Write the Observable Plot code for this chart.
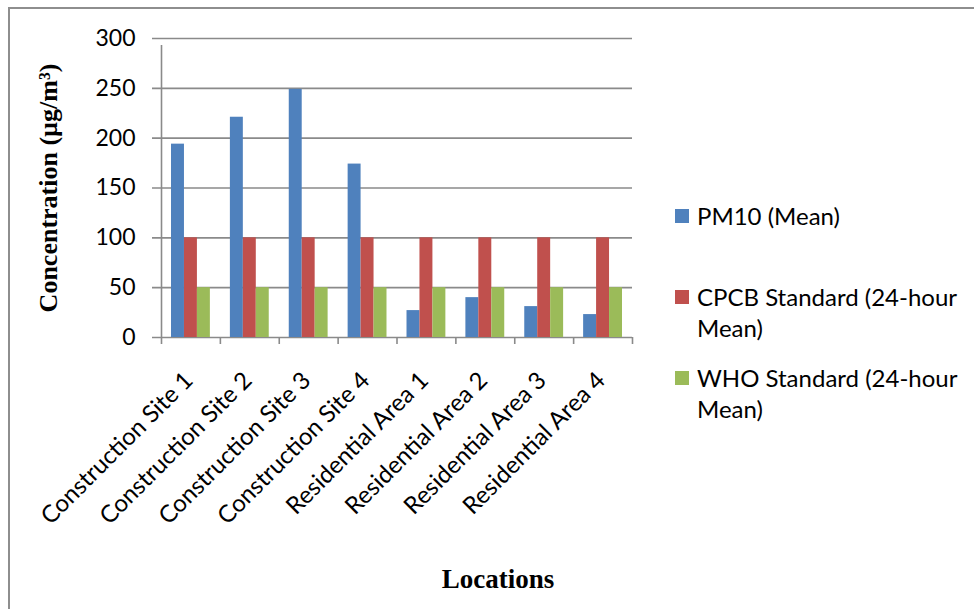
<!DOCTYPE html>
<html>
<head>
<meta charset="utf-8">
<script src="https://cdn.jsdelivr.net/npm/d3@7"></script>
<script src="https://cdn.jsdelivr.net/npm/@observablehq/plot@0.6"></script>
<style>
  html, body { margin: 0; padding: 0; background: #fff; overflow: hidden; }
  #wrap { position: relative; width: 974px; height: 609px; }
  #frame { position: absolute; left: 8px; top: 7px; width: 2000px; height: 2000px;
           border-top: 2px solid #8e8e8e; border-left: 2px solid #8e8e8e; }
  #chart { position: absolute; left: 0; top: 0; }
  .legend-item { position: absolute; left: 675px; display: flex; align-items: flex-start;
                 font-family: Lato, sans-serif; font-size: 24px; line-height: 31px; color: #000; }
  .swatch { width: 14px; height: 14px; margin-top: 9px; margin-right: 8px; flex: none; }
</style>
</head>
<body>
<div id="wrap">
  <div id="frame"></div>
  <div id="chart"></div>
  <div id="legend"></div>
</div>
<script>
// Monitoring locations
const locations = [
  "Construction Site 1", "Construction Site 2", "Construction Site 3", "Construction Site 4",
  "Residential Area 1", "Residential Area 2", "Residential Area 3", "Residential Area 4"
];
// Mean PM10 concentration at each location (µg/m³)
const pm10 = [194, 221, 249, 174, 27, 40, 31, 23];
// 24-hour mean standards (µg/m³)
const cpcb = [100, 100, 100, 100, 100, 100, 100, 100];
const who = [50, 50, 50, 50, 50, 50, 50, 50];

const seriesNames = [
  ["PM10 (Mean)"],
  ["CPCB Standard (24-hour", "Mean)"],
  ["WHO Standard (24-hour", "Mean)"]
];
const seriesColors = ["#4f81bd", "#c0504d", "#9bbb59"];
const yTicks = [0, 50, 100, 150, 200, 250, 300];
const yTitle = "Concentration (µg/m³)";
const xTitle = "Locations";

const width = 974, height = 609;
const marginLeft = 161, marginRight = 342, marginTop = 38, marginBottom = 272;
const step = (width - marginLeft - marginRight) / locations.length;
const barW = step * 0.22;
const lead = step * 0.17;
const grid = "#8a8a8a";

const seriesValues = [pm10, cpcb, who];
const bars = seriesValues.map((values, s) =>
  Plot.barY(locations.map((loc, i) => ({location: loc, value: values[i]})), {
    x: "location",
    y: "value",
    fill: seriesColors[s],
    insetLeft: lead + s * barW,
    insetRight: step - lead - (s + 1) * barW
  })
);

const chart = Plot.plot({
  width, height, marginLeft, marginRight, marginTop, marginBottom,
  style: {fontFamily: "Lato, sans-serif", background: "transparent", color: "#000"},
  x: {type: "band", domain: locations, padding: 0, round: false},
  y: {domain: [0, 300]},
  marks: [
    // horizontal gridlines, extended left past the axis as tick marks
    Plot.ruleY(yTicks, {y: d => d, stroke: grid, strokeWidth: 1.6, insetLeft: -9}),
    // vertical value axis line
    Plot.ruleX([locations[0]], {x: d => d, dx: -step / 2, y1: 0, y2: 300, insetBottom: -7, stroke: grid, strokeWidth: 1.6}),
    // category boundary tick marks
    Plot.ruleX(locations, {x: d => d, dx: -step / 2, y1: 0, y2: 0, insetBottom: -7, stroke: grid, strokeWidth: 1.6}),
    Plot.ruleX([locations[locations.length - 1]], {x: d => d, dx: step / 2, y1: 0, y2: 0, insetBottom: -7, stroke: grid, strokeWidth: 1.6}),
    ...bars,
    Plot.axisY({ticks: yTicks, tickSize: 0, tickPadding: 26, fontSize: 23, label: null, tickFormat: d => String(d)}),
    Plot.axisX({tickSize: 0, tickRotate: -45, tickPadding: 39, dx: -2, fontSize: 24, label: null}),
    Plot.text([yTitle], {frameAnchor: "left", textAnchor: "middle", rotate: -90, dx: -113, fontFamily: "Liberation Serif, Times New Roman, serif", fontWeight: "bold", fontSize: 26, fill: "#000"}),
    Plot.text([xTitle], {frameAnchor: "bottom", dx: 101, dy: 250, lineAnchor: "bottom", fontFamily: "Liberation Serif, Times New Roman, serif", fontWeight: "bold", fontSize: 27, fill: "#000"})
  ]
});
document.getElementById("chart").appendChild(chart);

// Legend: one entry per series, first line centred on the swatch
const legend = document.getElementById("legend");
const entryCenters = [215, 296, 377];
seriesNames.forEach((lines, s) => {
  const item = document.createElement("div");
  item.className = "legend-item";
  item.style.top = (entryCenters[s] - 15.5) + "px";
  const sw = document.createElement("div");
  sw.className = "swatch";
  sw.style.background = seriesColors[s];
  const label = document.createElement("div");
  label.innerHTML = lines.join("<br>");
  item.appendChild(sw);
  item.appendChild(label);
  legend.appendChild(item);
});
</script>
</body>
</html>
